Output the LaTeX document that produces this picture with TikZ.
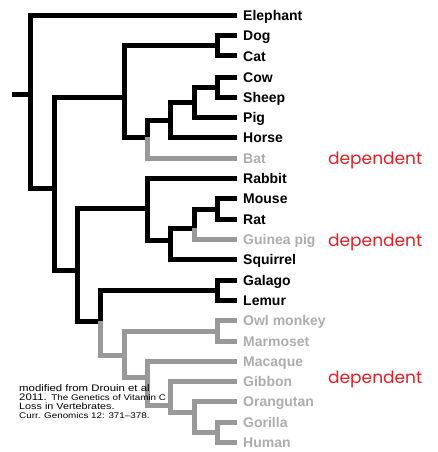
\documentclass[tikz,border=0pt]{standalone}
\usepackage{fontspec}
\setmainfont{Liberation Sans}
\newfontfamily\depfont{Poppins}
\newfontfamily\citefont[FakeStretch=1.2]{Liberation Sans}
\usepackage{tikz}
\usetikzlibrary{positioning}
\definecolor{lostline}{gray}{0.6}
\definecolor{losttext}{gray}{0.68}
\definecolor{depred}{RGB}{226,30,36}
\tikzset{
br/.style={
  line width=5pt,
  line join=miter,
  draw=black
  },
lost/.style={
  draw=lostline
  },
sp/.style={
  anchor=west,
  inner sep=0pt,
  inner xsep=6.5pt,
  text height=10pt,
  text depth=0pt,
  font=\bfseries\fontsize{14}{14}\selectfont
  },
lostsp/.style={
  sp,
  text=losttext
  },
dep/.style={
  anchor=base west,
  inner sep=0pt,
  text=depred,
  font=\depfont\fontsize{17}{17}\selectfont
  },
cite/.style={
  anchor=base west,
  inner sep=0pt,
  align=left,
  font=\citefont\fontsize{9.5}{9.1}\selectfont
  }
}

\begin{document}
\begin{tikzpicture}[x=1pt,y=-1pt,elbow/.style={to path={|- (\tikztotarget)}}]
            \useasboundingbox (0,0) rectangle (437,452);
            % species
            \node[sp] (eleph) at (236.5,16) {Elephant};
            \node[sp] (dog) at (236.5,36) {Dog};
            \node[sp] (cat) at (236.5,56) {Cat};
            \node[sp] (cow) at (236.5,77) {Cow};
            \node[sp] (sheep) at (236.5,97) {Sheep};
            \node[sp] (pig) at (236.5,117) {Pig};
            \node[sp] (horse) at (236.5,137) {Horse};
            \node[lostsp] (bat) at (236.5,158) {Bat};
            \node[sp] (rabbit) at (236.5,178) {Rabbit};
            \node[sp] (mouse) at (236.5,198) {Mouse};
            \node[sp] (rat) at (236.5,219) {Rat};
            \node[lostsp] (gpig) at (236.5,239) {Guinea pig};
            \node[sp] (squirrel) at (236.5,259) {Squirrel};
            \node[sp] (galago) at (236.5,280) {Galago};
            \node[sp] (lemur) at (236.5,300) {Lemur};
            \node[lostsp] (owl) at (236.5,320) {Owl monkey};
            \node[lostsp] (marmo) at (236.5,341) {Marmoset};
            \node[lostsp] (macaque) at (236.5,361) {Macaque};
            \node[lostsp] (gibbon) at (236.5,381) {Gibbon};
            \node[lostsp] (orang) at (236.5,401) {Orangutan};
            \node[lostsp] (gorilla) at (236.5,422) {Gorilla};
            \node[lostsp] (human) at (236.5,442) {Human};
            % branch points
            \coordinate (stem) at (12,94);
            \coordinate (root) at (30.5,94);
            \coordinate (boreo) at (54,188);
            \coordinate (laur) at (124,97);
            \coordinate (carn) at (217.7,46);
            \coordinate (scrot) at (147.5,137);
            \coordinate (ferung) at (170.9,120);
            \coordinate (artio) at (194.3,102);
            \coordinate (bov) at (217.7,87);
            \coordinate (euarch) at (77.3,270);
            \coordinate (glires) at (147.5,208);
            \coordinate (rodent) at (170.9,240);
            \coordinate (muhy) at (194.3,228);
            \coordinate (murid) at (217.7,209);
            \coordinate (primate) at (100.7,321);
            \coordinate (strep) at (217.7,290);
            \coordinate (anthro) at (124.1,355);
            \coordinate (platy) at (217.7,331);
            \coordinate (catar) at (147.5,377);
            \coordinate (ape) at (170.9,405);
            \coordinate (homin) at (194.3,412);
            \coordinate (homo) at (217.7,432);
            \path[br]
            (stem) edge (root)
            (root) edge[elbow] (eleph)
            (root) edge[elbow] (boreo)
            (boreo) edge[elbow] (laur)
            (boreo) edge[elbow] (euarch)
            (laur) edge[elbow] (carn)
            (laur) edge[elbow] (scrot)
            (carn) edge[elbow] (dog)
            (carn) edge[elbow] (cat)
            (scrot) edge[elbow] (ferung)
            (ferung) edge[elbow] (artio)
            (ferung) edge[elbow] (horse)
            (artio) edge[elbow] (bov)
            (artio) edge[elbow] (pig)
            (bov) edge[elbow] (cow)
            (bov) edge[elbow] (sheep)
            (euarch) edge[elbow] (glires)
            (euarch) edge[elbow] (primate)
            (glires) edge[elbow] (rabbit)
            (glires) edge[elbow] (rodent)
            (rodent) edge[elbow] (muhy)
            (rodent) edge[elbow] (squirrel)
            (muhy) edge[elbow] (murid)
            (murid) edge[elbow] (mouse)
            (murid) edge[elbow] (rat)
            (primate) edge[elbow] (strep)
            (strep) edge[elbow] (galago)
            (strep) edge[elbow] (lemur)
            ;
            \path[br,lost]
            (scrot) edge[elbow] (bat)
            (muhy) edge[elbow] (gpig)
            (primate) edge[elbow] (anthro)
            (anthro) edge[elbow] (platy)
            (anthro) edge[elbow] (catar)
            (platy) edge[elbow] (owl)
            (platy) edge[elbow] (marmo)
            (catar) edge[elbow] (macaque)
            (catar) edge[elbow] (ape)
            (ape) edge[elbow] (gibbon)
            (ape) edge[elbow] (homin)
            (homin) edge[elbow] (orang)
            (homin) edge[elbow] (homo)
            (homo) edge[elbow] (gorilla)
            (homo) edge[elbow] (human)
            ;
            % losses
            \node[dep] (dep1) at (328,164) {dependent};
            \node[dep] (dep2) at (328,246) {dependent};
            \node[dep] (dep3) at (328,383) {dependent};
            \node[cite] (src) at (19,418.3) {modified from Drouin et al\\
              2011.\hspace{4.5pt}{\fontsize{8.2}{9.1}\selectfont The Genetics of Vitamin C}\\
              {\fontsize{9}{9.1}\selectfont Loss in Vertebrates.}\\
              {\fontsize{8.2}{9.1}\selectfont Curr. Genomics 12: 371–378.}};
        \end{tikzpicture}
\end{document}
